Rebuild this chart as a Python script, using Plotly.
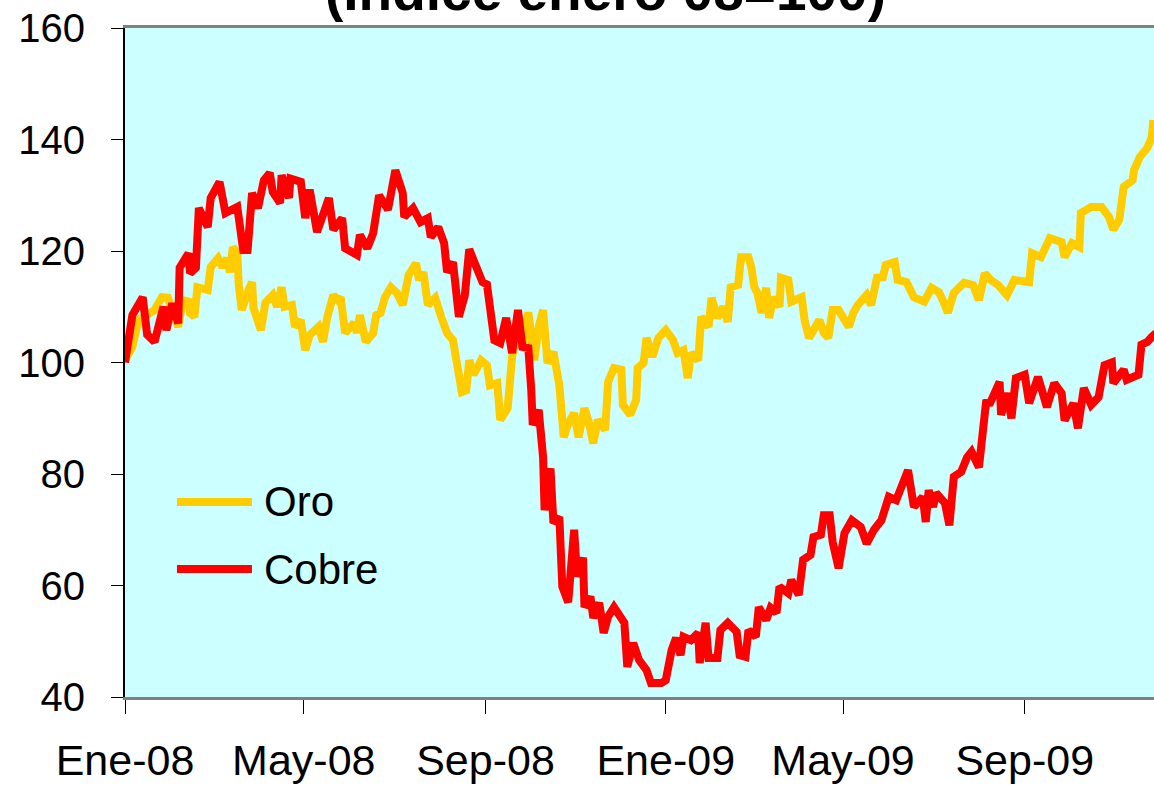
import pandas as pd
import plotly.graph_objects as go

inicio = pd.Timestamp("2008-01-01")

# dias desde el 1-ene-2008 y valor del indice (enero 08 = 100)
dias_oro = [0, 5, 9, 20, 25, 29, 36, 39, 43, 44, 47, 49, 56, 58, 63, 66, 69, 71, 73, 76,
            77, 79, 83, 86, 87, 92, 95, 100, 103, 106, 108, 113, 115, 119, 122, 125, 131, 134, 137, 141,
            144, 146, 149, 155, 157, 159, 163, 168, 170, 173, 176, 180, 184, 188, 192, 197, 199, 202, 205, 210,
            214, 218, 222, 225, 228, 231, 233, 236, 241, 245, 247, 252, 254, 259, 262, 266, 269, 273, 277, 280,
            283, 286, 290, 294, 297, 300, 304, 307, 311, 314, 317, 320, 325, 327, 331, 336, 337, 342, 346, 347,
            351, 353, 357, 361, 366, 371, 374, 378, 381, 383, 388, 390, 395, 397, 401, 405, 408, 410, 415, 417,
            422, 424, 426, 428, 431, 434, 436, 439, 443, 444, 449, 451, 458, 460, 463, 470, 473, 476, 479, 483,
            490, 493, 496, 502, 505, 509, 513, 515, 521, 523, 529, 534, 541, 546, 551, 554, 557, 561, 568, 574,
            578, 582, 586, 591, 597, 602, 612, 614, 620, 626, 634, 636, 641, 646, 647, 654, 661, 666, 669, 673,
            676, 682, 683, 687, 692, 695, 696]
oro = [100.4, 102.8, 107.6, 109.4, 111.7, 111.6, 106.4, 111.2, 110.9, 108.9, 108.2, 113.5, 113.0, 117.1, 118.7, 117.1, 118.7, 116.2, 120.7, 119.6,
       113.9, 109.4, 112.6, 114.4, 109.8, 105.8, 110.7, 112.1, 110.0, 113.5, 110.0, 110.3, 106.4, 107.6, 102.2, 104.9, 106.4, 103.7, 108.2, 112.1,
       111.2, 111.7, 105.3, 107.1, 105.3, 108.5, 103.7, 105.3, 108.5, 108.9, 111.7, 113.5, 112.5, 110.3, 115.7, 117.8, 114.8, 116.2, 110.3, 111.6,
       108.2, 105.3, 104.0, 100.0, 94.7, 95.0, 100.4, 97.8, 100.4, 99.5, 95.9, 96.3, 89.7, 91.8, 101.0, 105.8, 102.8, 109.0, 100.4, 106.4,
       109.4, 99.9, 101.9, 95.9, 86.6, 89.1, 90.9, 86.6, 91.8, 89.3, 85.5, 89.7, 87.9, 96.5, 99.0, 98.7, 92.4, 90.6, 93.3, 99.0,
       99.9, 104.4, 101.0, 104.4, 105.8, 104.0, 101.7, 102.2, 97.2, 101.7, 100.4, 108.2, 106.4, 111.6, 108.0, 110.0, 107.3, 113.5, 113.9, 118.9,
       118.9, 117.0, 113.5, 112.5, 108.9, 113.4, 108.0, 111.7, 110.0, 115.2, 114.8, 110.9, 111.7, 107.6, 104.4, 107.6, 105.3, 104.4, 109.4, 109.4,
       106.4, 108.9, 110.3, 112.1, 110.3, 115.2, 115.3, 117.5, 118.0, 114.8, 114.4, 111.7, 110.9, 113.4, 112.6, 110.9, 108.9, 112.5, 114.3, 113.9,
       111.2, 116.0, 114.8, 113.9, 112.1, 114.8, 114.4, 119.6, 118.9, 122.3, 121.6, 118.9, 121.4, 120.7, 126.8, 127.9, 127.9, 126.1, 123.8, 125.6,
       131.5, 132.7, 134.5, 136.9, 138.5, 140.4, 143.5]

dias_cobre = [0, 2, 5, 12, 15, 20, 26, 28, 32, 36, 37, 43, 44, 48, 50, 56, 58, 64, 68, 76,
              80, 83, 86, 90, 94, 98, 100, 105, 106, 111, 112, 119, 122, 125, 130, 138, 141, 147, 149, 157,
              159, 164, 168, 172, 178, 183, 188, 189, 195, 200, 205, 207, 212, 216, 218, 222, 226, 230, 233, 238,
              242, 245, 247, 250, 254, 258, 262, 266, 269, 273, 275, 276, 280, 283, 284, 288, 290, 294, 296, 300,
              304, 306, 310, 311, 315, 317, 321, 324, 327, 331, 338, 340, 344, 348, 353, 356, 363, 366, 370, 373,
              376, 378, 383, 388, 389, 393, 395, 401, 403, 408, 414, 416, 420, 422, 427, 429, 434, 437, 441, 443,
              449, 451, 456, 459, 464, 466, 471, 473, 477, 479, 483, 487, 492, 498, 502, 507, 512, 517, 522, 525,
              530, 534, 540, 542, 544, 547, 549, 555, 558, 561, 566, 570, 573, 578, 580, 582, 583, 585, 592, 593,
              597, 600, 603, 609, 612, 618, 624, 629, 634, 636, 642, 645, 649, 654, 659, 663, 668, 669, 676, 678,
              683, 686, 688, 692, 695, 698]
cobre = [100.0, 104.6, 108.5, 111.7, 105.0, 103.7, 110.0, 105.8, 110.6, 107.0, 117.0, 119.6, 116.0, 117.0, 127.7, 124.3, 129.5, 132.4, 126.8, 127.9,
         120.2, 120.2, 130.4, 127.7, 132.7, 134.0, 130.6, 128.6, 133.6, 129.5, 133.0, 132.4, 125.9, 131.0, 123.4, 129.5, 123.8, 125.9, 120.5, 119.3,
         122.9, 120.5, 123.2, 130.0, 127.4, 134.5, 130.4, 126.1, 127.7, 125.2, 125.9, 122.5, 124.3, 121.4, 116.2, 118.0, 108.2, 112.0, 120.3, 117.0,
         114.4, 114.0, 110.3, 104.0, 103.5, 108.0, 101.7, 109.4, 102.8, 102.6, 95.0, 88.8, 91.5, 83.0, 73.5, 81.0, 71.2, 72.3, 59.8, 57.0,
         70.0, 61.6, 65.0, 56.1, 58.0, 54.2, 56.9, 51.5, 54.4, 56.1, 53.3, 45.4, 49.7, 46.6, 44.8, 42.5, 42.5, 43.0, 48.4, 50.6,
         47.5, 50.8, 50.2, 51.5, 46.1, 53.3, 47.0, 47.0, 52.0, 53.3, 51.7, 47.5, 47.2, 52.0, 50.8, 56.1, 53.8, 56.0, 55.1, 59.8,
         58.6, 61.0, 58.3, 64.6, 65.5, 68.7, 69.1, 72.6, 72.6, 67.8, 63.1, 69.4, 71.7, 70.5, 67.5, 70.0, 71.7, 75.9, 75.3, 77.7,
         80.7, 74.1, 75.9, 71.4, 77.1, 74.1, 76.6, 74.8, 70.8, 79.5, 80.4, 83.0, 84.0, 81.2, 85.6, 90.0, 93.3, 92.4, 96.5, 90.6,
         94.5, 90.0, 97.2, 97.8, 92.7, 97.4, 92.0, 96.3, 94.5, 89.6, 92.7, 88.2, 95.4, 92.4, 93.8, 99.5, 100.0, 96.3, 98.7, 96.9,
         97.4, 97.8, 103.2, 103.7, 104.6, 105.3]

fechas_ticks = ["2008-01-01", "2008-05-01", "2008-09-01", "2009-01-01", "2009-05-01", "2009-09-01"]
etiquetas_ticks = ["Ene-08", "May-08", "Sep-08", "Ene-09", "May-09", "Sep-09"]
valores_y = [40, 60, 80, 100, 120, 140, 160]

fechas_oro = inicio + pd.to_timedelta(dias_oro, unit="D")
fechas_cobre = inicio + pd.to_timedelta(dias_cobre, unit="D")

FUENTE = "Liberation Sans, Arial, sans-serif"
AMARILLO = "#FFCC00"
ROJO = "#FF0000"

fig = go.Figure()
fig.add_trace(go.Scatter(x=fechas_oro, y=oro, mode="lines", name="Oro",
                         line=dict(color=AMARILLO, width=8)))
fig.add_trace(go.Scatter(x=fechas_cobre, y=cobre, mode="lines", name="Cobre",
                         line=dict(color=ROJO, width=8)))

# leyenda dibujada a mano (muestras de linea largas como en el original)
for nombre, color, ypos in [("Oro", AMARILLO, 0.2915), ("Cobre", ROJO, 0.1913)]:
    fig.add_shape(type="line", xref="paper", yref="paper",
                  x0=0.0505, x1=0.1234, y0=ypos, y1=ypos,
                  line=dict(color=color, width=8))
    fig.add_annotation(text=nombre, xref="paper", yref="paper", x=0.1331, y=ypos,
                       xanchor="left", yanchor="middle", showarrow=False,
                       font=dict(family=FUENTE, size=42, color="black"))

# titulo (cortado por arriba en el original)
fig.add_annotation(text="<b>(Índice enero 08=100)</b>", xref="paper", yref="paper",
                   x=0.4665, y=1.055, xanchor="center", yanchor="middle", showarrow=False,
                   font=dict(family=FUENTE, size=55, color="black"))

fig.update_layout(
    width=1154, height=788,
    margin=dict(l=125, r=0, t=28, b=91),
    paper_bgcolor="white",
    plot_bgcolor="#CCFFFF",
    showlegend=False,
    font=dict(family=FUENTE, color="black"),
    xaxis=dict(
        type="date",
        range=["2008-01-01", "2009-11-27 12:00"],
        tickvals=fechas_ticks, ticktext=etiquetas_ticks,
        tickfont=dict(size=43),
        ticks="outside", ticklen=14, tickcolor="black", tickwidth=1,
        ticklabelstandoff=9,
        showline=True, linecolor="#808080", linewidth=3, mirror=True,
        showgrid=False, zeroline=False,
    ),
    yaxis=dict(
        range=[40, 160],
        tickvals=valores_y,
        tickfont=dict(size=40),
        ticks="outside", ticklen=12, tickcolor="black", tickwidth=1,
        ticklabelstandoff=18,
        showline=True, linecolor="black", linewidth=2,
        showgrid=False, zeroline=False,
    ),
)

fig.write_html("out.html", config={"displayModeBar": False},
               post_script="document.body.style.margin='0';document.body.style.overflow='hidden';")
